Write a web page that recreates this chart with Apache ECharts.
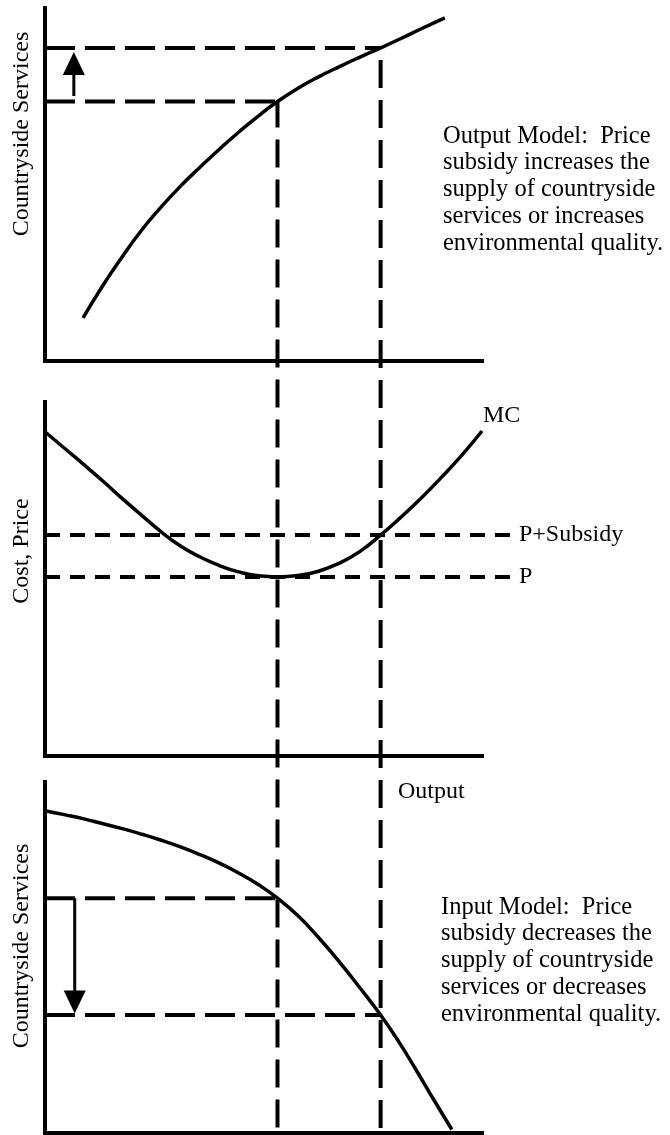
<!DOCTYPE html>
<html><head><meta charset="utf-8">
<script src="https://cdn.jsdelivr.net/npm/echarts@6/dist/echarts.min.js"></script>
<style>html,body{margin:0;padding:0;background:#fff}#c{width:670px;height:1135px}</style>
</head><body><div id="c"></div>
<script>
// ---- data ----
const outputLevels = [5.32, 7.68];            // Q without subsidy, Q with subsidy
// Output model (top panel)
const topCurveX = [0.87, 1.31, 1.76, 2.20, 2.65, 3.09, 3.54, 3.99, 4.43, 4.88, 5.32, 5.79, 6.26, 6.74, 7.21, 7.68, 8.17, 8.66, 9.15];
const topCurveY = [1.22, 2.11, 2.94, 3.69, 4.35, 4.94, 5.48, 6.00, 6.48, 6.94, 7.35, 7.73, 8.05, 8.34, 8.61, 8.87, 9.15, 9.44, 9.72];
const topServiceLevels = [7.35, 8.87];
const topArrowX = 0.66;
const topArrowY = [7.51, 8.43];
// Cost / price panel (middle)
const mcX = [0, 0.44, 0.89, 1.33, 1.77, 2.22, 2.66, 3.10, 3.55, 3.99, 4.43, 4.88, 5.32, 5.79, 6.26, 6.74, 7.21, 7.68, 8.14, 8.61, 9.07, 9.54, 10.0];
const mcY = [9.16, 8.70, 8.23, 7.76, 7.27, 6.79, 6.33, 5.93, 5.62, 5.38, 5.20, 5.09, 5.06, 5.10, 5.22, 5.45, 5.78, 6.24, 6.74, 7.29, 7.87, 8.50, 9.18];
const priceLevels = [5.06, 6.24];
const priceLabels = ['P', 'P+Subsidy'];
const priceLineEnd = 10.64;
// Input model (bottom panel)
const botCurveX = [0, 0.44, 0.89, 1.33, 1.77, 2.22, 2.66, 3.10, 3.55, 3.99, 4.43, 4.88, 5.32, 5.79, 6.26, 6.74, 7.21, 7.68, 8.09, 8.50, 8.90, 9.31];
const botCurveY = [9.18, 9.07, 8.95, 8.81, 8.67, 8.51, 8.34, 8.15, 7.93, 7.69, 7.41, 7.08, 6.69, 6.19, 5.57, 4.87, 4.13, 3.36, 2.61, 1.78, 0.94, 0.10];
const botServiceLevels = [6.69, 3.36];
const botArrowX = 0.68;
const botArrowY = [6.69, 3.73];
// texts
const yNames = ['Countryside Services', 'Cost, Price', 'Countryside Services'];
const xName = 'Output';
const topNote = 'Output Model:  Price\nsubsidy increases the\nsupply of countryside\nservices or increases\nenvironmental quality.';
const botNote = 'Input Model:  Price\nsubsidy decreases the\nsupply of countryside\nservices or decreases\nenvironmental quality.';

// ---- layout ----
const W = 670, H = 1135;
const LEFT = 45, PLOT_W = 437;
const panels = [{top: 8, height: 353}, {top: 402, height: 354}, {top: 782, height: 351}];
const AX_MAX = 10;
// overlay for the vertical guides: same scale as top panel, reaching the bottom of the page
const guideMin = AX_MAX - AX_MAX * (H - panels[0].top) / panels[0].height;
// overlay for the price lines: same scale as middle panel, extended to the right
const priceW = PLOT_W * priceLineEnd / AX_MAX;

const FONT = "'Liberation Serif', 'Times New Roman', serif";
const FS = 24;
const chart = echarts.init(document.getElementById('c'), null, {renderer: 'canvas'});
const zip = (xs, ys) => xs.map((x, i) => [x, ys[i]]);

const gridBase = {outerBoundsMode: 'none', containLabel: false};
const grids = panels.map(p => Object.assign({left: LEFT, width: PLOT_W, top: p.top, height: p.height}, gridBase));
grids.push(Object.assign({left: LEFT, width: PLOT_W, top: panels[0].top, height: H - panels[0].top}, gridBase)); // 3
grids.push(Object.assign({left: LEFT, width: priceW, top: panels[1].top, height: panels[1].height}, gridBase)); // 4

const axisShown = {
  type: 'value', min: 0, max: AX_MAX,
  axisLine: {show: true, onZero: false, lineStyle: {color: '#000', width: 4, cap: 'square'}},
  axisTick: {show: false}, axisLabel: {show: false}, splitLine: {show: false}
};
const axisHidden = {type: 'value', show: false, axisLine: {show: false}, splitLine: {show: false}};
const xAxes = [0, 1, 2].map(i => Object.assign({gridIndex: i}, axisShown));
const yAxes = [0, 1, 2].map(i => Object.assign({gridIndex: i}, axisShown));
xAxes.push(Object.assign({gridIndex: 3, min: 0, max: AX_MAX}, axisHidden));
yAxes.push(Object.assign({gridIndex: 3, min: guideMin, max: AX_MAX}, axisHidden));
xAxes.push(Object.assign({gridIndex: 4, min: 0, max: priceLineEnd}, axisHidden));
yAxes.push(Object.assign({gridIndex: 4, min: 0, max: AX_MAX}, axisHidden));

const black = '#000';
function curve(idx, data, extra) {
  return Object.assign({
    type: 'line', xAxisIndex: idx, yAxisIndex: idx, data: data, smooth: 0.5,
    symbol: 'none', silent: true,
    lineStyle: {color: black, width: 3.5}
  }, extra || {});
}
function dashed(idx, data, dash, offset, extra) {
  return Object.assign({
    type: 'line', xAxisIndex: idx, yAxisIndex: idx, data: data, symbol: 'none', silent: true,
    lineStyle: {color: black, width: 4, type: dash, dashOffset: offset || 0, cap: 'butt'}
  }, extra || {});
}
function arrow(idx, x, ys, rot) {
  return {
    type: 'line', xAxisIndex: idx, yAxisIndex: idx, symbol: 'none', showSymbol: true, silent: true,
    data: [[x, ys[0]], {value: [x, ys[1]], symbol: 'triangle', symbolSize: [22, 23], symbolRotate: rot}],
    itemStyle: {color: black}, lineStyle: {color: black, width: 3}
  };
}

const series = [];
// top panel
series.push(curve(0, zip(topCurveX, topCurveY)));
topServiceLevels.forEach((v, i) => series.push(dashed(0, [[0, v], [outputLevels[i], v]], [30, 10], 0)));
series.push(arrow(0, topArrowX, topArrowY, 0));
// vertical guides from the top curve down through all panels
const vOff = [2, 28];
outputLevels.forEach((q, i) => series.push(dashed(3, [[q, topServiceLevels[i]], [q, guideMin]], [28, 12], vOff[i])));
// middle panel
series.push(curve(1, zip(mcX, mcY), {
  endLabel: {show: true, formatter: 'MC', color: black, fontFamily: FONT, fontSize: FS, distance: 0, offset: [1, -15]}
}));
priceLevels.forEach((p, i) => series.push(dashed(4, [[0, p], [priceLineEnd, p]], [15, 10], 0, {
  endLabel: {show: true, formatter: priceLabels[i], color: black, fontFamily: FONT, fontSize: FS, distance: 9}
})));
// bottom panel
series.push(curve(2, zip(botCurveX, botCurveY)));
botServiceLevels.forEach((v, i) => series.push(dashed(2, [[0, v], [outputLevels[i], v]], [30, 10], 0)));
series.push(arrow(2, botArrowX, botArrowY, 180));

const textStyle = {fill: black, font: FS + 'px ' + FONT};
const noteStyle = {fill: black, font: '24.5px ' + FONT};
const graphic = [
  {type: 'text', x: 22, y: 134, rotation: Math.PI / 2, style: Object.assign({text: yNames[0], align: 'center', verticalAlign: 'middle'}, textStyle)},
  {type: 'text', x: 22, y: 551, rotation: Math.PI / 2, style: Object.assign({text: yNames[1], align: 'center', verticalAlign: 'middle'}, textStyle)},
  {type: 'text', x: 22, y: 946, rotation: Math.PI / 2, style: Object.assign({text: yNames[2], align: 'center', verticalAlign: 'middle'}, textStyle)},
  {type: 'text', x: 398, y: 792, style: Object.assign({text: xName, align: 'left', verticalAlign: 'middle'}, textStyle)},
  {type: 'text', x: 443, y: 123, style: Object.assign({text: topNote, align: 'left', verticalAlign: 'top', lineHeight: 26.7}, noteStyle)},
  {type: 'text', x: 441, y: 894, style: Object.assign({text: botNote, align: 'left', verticalAlign: 'top', lineHeight: 26.7}, noteStyle)}
];

chart.setOption({
  backgroundColor: '#fff', animation: false,
  grid: grids, xAxis: xAxes, yAxis: yAxes,
  graphic: graphic,
  series: series
});
</script></body></html>
